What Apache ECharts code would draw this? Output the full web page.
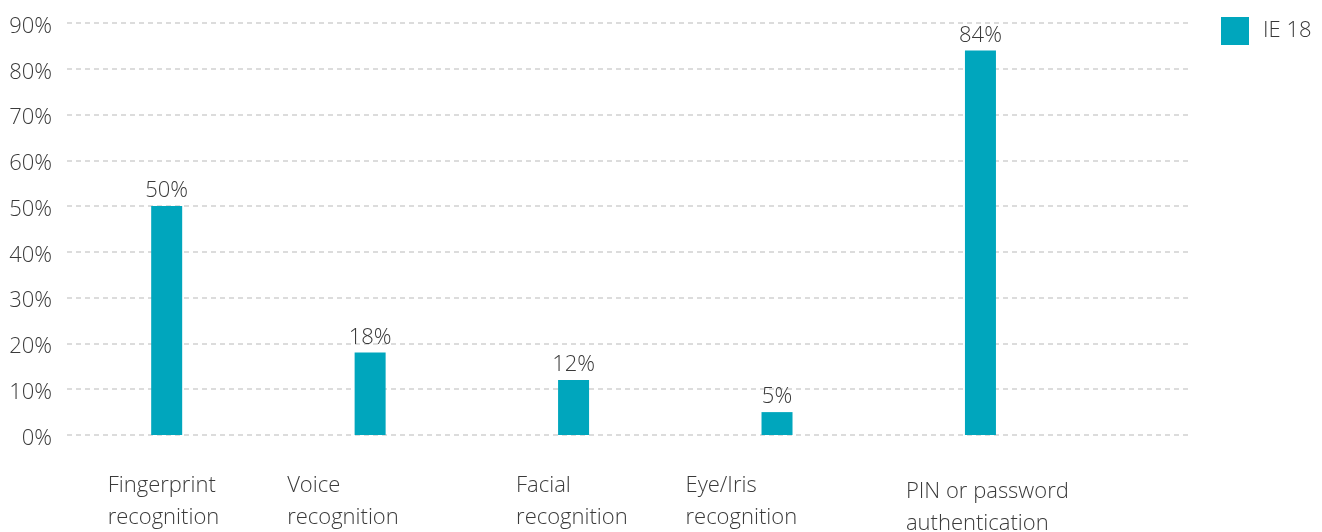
<!DOCTYPE html>
<html>
<head>
<meta charset="utf-8">
<title>Authentication methods</title>
<script src="https://cdn.jsdelivr.net/npm/echarts@6/dist/echarts.min.js"></script>
<style>
  html, body { margin: 0; padding: 0; background: #fff; }
  #chart { width: 1322px; height: 532px; }
</style>
</head>
<body>
<div id="chart"></div>
<script>
// data
const categories = [
  ['Fingerprint', 'recognition'],
  ['Voice', 'recognition'],
  ['Facial', 'recognition'],
  ['Eye/Iris', 'recognition'],
  ['PIN or password', 'authentication'],
];
const seriesName = 'IE 18';
const values = [50, 18, 12, 5, 84];
const yTicks = [0, 90, 10]; // min, max, step

const FONT = '"Open Sans", "Noto Sans", sans-serif';
const TEXT = '#3a3a3a';
const TEAL = '#00A6BD';

// label boxes: text starts left-aligned a bit left of each bar
const labelWidths = [118, 166, 115, 183, 149];
const rich = {};
labelWidths.forEach((w, i) => {
  rich['a' + i] = { width: w, align: 'left', fontSize: 22, lineHeight: 32, color: TEXT, fontFamily: FONT, fontWeight: 300 };
  rich['b' + i] = { width: w, align: 'left', fontSize: 22, lineHeight: 32, color: TEXT, fontFamily: FONT, fontWeight: 300 };
});
// last label sits a bit lower
rich.a4.lineHeight = 44;
rich.b4.lineHeight = 20;

const chart = echarts.init(document.getElementById('chart'));

const option = {
  animation: false,
  textStyle: { fontFamily: FONT, fontWeight: 300, color: TEXT },
  grid: { left: 67, right: 132, top: 23, bottom: 97, containLabel: false, outerBoundsMode: 'none' },
  legend: {
    left: 1221,
    top: 17,
    padding: 0,
    itemWidth: 28,
    itemHeight: 28,
    icon: 'rect',
    data: [seriesName],
    textStyle: { fontSize: 22, color: TEXT, fontFamily: FONT, fontWeight: 300, padding: [0, 0, 0, 9] },
  },
  xAxis: {
    type: 'value',
    min: -0.49,
    max: 5.03,
    splitNumber: 5,
    axisLine: { show: false },
    axisTick: { show: false },
    splitLine: { show: false },
    axisLabel: {
      margin: 35,
      align: 'center',
      showMinLabel: true,
      showMaxLabel: true,
      formatter: function (v) {
        const i = Math.round(v);
        if (Math.abs(v - i) > 1e-6 || i < 0 || i >= categories.length) return '';
        return '{a' + i + '|' + categories[i][0] + '}\n{b' + i + '|' + categories[i][1] + '}';
      },
      rich: rich,
    },
  },
  yAxis: {
    type: 'value',
    min: yTicks[0],
    max: yTicks[1],
    interval: yTicks[2],
    axisLine: { show: false },
    axisTick: { show: false },
    axisLabel: {
      margin: 15,
      formatter: v => '{p|' + v + '%}',
      rich: {
        p: { fontSize: 22, color: TEXT, fontFamily: FONT, fontWeight: 300, padding: [7, 0, 0, 0] },
      },
    },
    splitLine: {
      lineStyle: { color: '#dcdcdc', width: 2, type: [5, 4] },
    },
  },
  series: [
    {
      name: seriesName,
      type: 'bar',
      barWidth: 31,
      itemStyle: { color: TEAL },
      data: values.map((v, i) => [i, v]),
      label: {
        show: true,
        position: 'top',
        distance: 4,
        fontSize: 22,
        color: TEXT,
        fontFamily: FONT,
        fontWeight: 300,
        formatter: p => p.value[1] + '%',
      },
    },
  ],
};

chart.setOption(option);
</script>
</body>
</html>
